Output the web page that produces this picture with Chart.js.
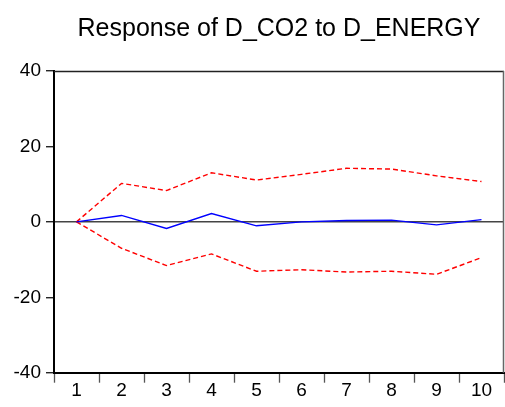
<!DOCTYPE html>
<html>
<head>
<meta charset="utf-8">
<script src="https://cdn.jsdelivr.net/npm/chart.js@4.4.1/dist/chart.umd.min.js"></script>
<style>
  html, body { margin: 0; padding: 0; background: #fff; }
  #wrap { width: 505px; height: 407px; }
</style>
</head>
<body>
<div id="wrap"><canvas id="irfChart"></canvas></div>
<script>
// 기간 (period)
const periods = ['1', '2', '3', '4', '5', '6', '7', '8', '9', '10'];

// 충격반응 값 (response of D_CO2 to D_ENERGY)
const response = [0, 1.7, -1.75, 2.2, -1.05, 0, 0.35, 0.45, -0.8, 0.6];
// ±2 S.E. 밴드
const upperBand = [0, 10.2, 8.3, 13.0, 11.1, 12.6, 14.2, 14.0, 12.2, 10.7];
const lowerBand = [0, -7.0, -11.6, -8.5, -13.1, -12.7, -13.3, -13.1, -13.9, -9.5];

const yTicks = [-40, -20, 0, 20, 40];

const FONT = "'Liberation Sans', Arial, sans-serif";

// 위쪽, 오른쪽 테두리 그리기
const frame = {
    id: 'frame',
    afterDraw(c) {
        const a = c.chartArea;
        const ctx = c.ctx;
        ctx.save();
        ctx.lineWidth = 1.5;
        ctx.strokeStyle = '#222';
        ctx.beginPath();
        ctx.moveTo(a.left, a.top + 0.5);
        ctx.lineTo(a.right, a.top + 0.5);
        ctx.stroke();
        ctx.strokeStyle = '#666';
        ctx.beginPath();
        ctx.moveTo(a.right - 0.5, a.top);
        ctx.lineTo(a.right - 0.5, a.bottom);
        ctx.stroke();
        ctx.restore();
    }
};

const ctx = document.getElementById('irfChart').getContext('2d');
const chart = new Chart(ctx, {
    type: 'line',
    data: {
        labels: periods,
        datasets: [
            {
                label: 'response',
                data: response,
                borderColor: '#0000ff',
                borderWidth: 1.4,
                pointRadius: 0,
                fill: false,
                tension: 0
            },
            {
                label: 'upper',
                data: upperBand,
                borderColor: '#ff0000',
                borderWidth: 1.4,
                borderDash: [5, 3],
                pointRadius: 0,
                fill: false,
                tension: 0
            },
            {
                label: 'lower',
                data: lowerBand,
                borderColor: '#ff0000',
                borderWidth: 1.4,
                borderDash: [5, 3],
                pointRadius: 0,
                fill: false,
                tension: 0
            }
        ]
    },
    options: {
        responsive: true,
        maintainAspectRatio: false,
        animation: false,
        layout: { padding: { left: 0, right: 1, top: 0, bottom: 0 } },
        plugins: {
            legend: { display: false },
            tooltip: { enabled: false },
            title: {
                display: true,
                fullSize: false,
                text: 'Response of D_CO2 to D_ENERGY',
                color: '#000',
                font: { family: FONT, size: 25, weight: 'normal', lineHeight: 1.2 },
                padding: { top: 14.3, bottom: 26.7 },
                align: 'center'
            }
        },
        scales: {
            x: {
                offset: true,
                afterFit(s) { s.height = 34.3; },
                grid: {
                    offset: true,
                    drawOnChartArea: false,
                    drawTicks: true,
                    tickLength: 10,
                    tickColor: '#555',
                    tickWidth: 1.3
                },
                border: { display: true, color: '#000', width: 2 },
                ticks: {
                    color: '#000',
                    font: { family: FONT, size: 19 },
                    padding: -3,
                    maxRotation: 0,
                    autoSkip: false
                }
            },
            y: {
                min: -40,
                max: 40,
                afterFit(s) { s.width = 54; },
                afterBuildTicks(s) { s.ticks = yTicks.map(v => ({ value: v })); },
                grid: {
                    color: c => (c.tick && c.tick.value === 0) ? '#444' : 'rgba(0,0,0,0)',
                    lineWidth: 1.5,
                    drawTicks: true,
                    tickLength: 8,
                    tickColor: '#000',
                    tickWidth: 1.2
                },
                border: { display: true, color: '#000', width: 2 },
                ticks: {
                    color: '#000',
                    font: { family: FONT, size: 19 },
                    padding: 5
                }
            }
        }
    },
    plugins: [frame]
});
</script>
</body>
</html>
